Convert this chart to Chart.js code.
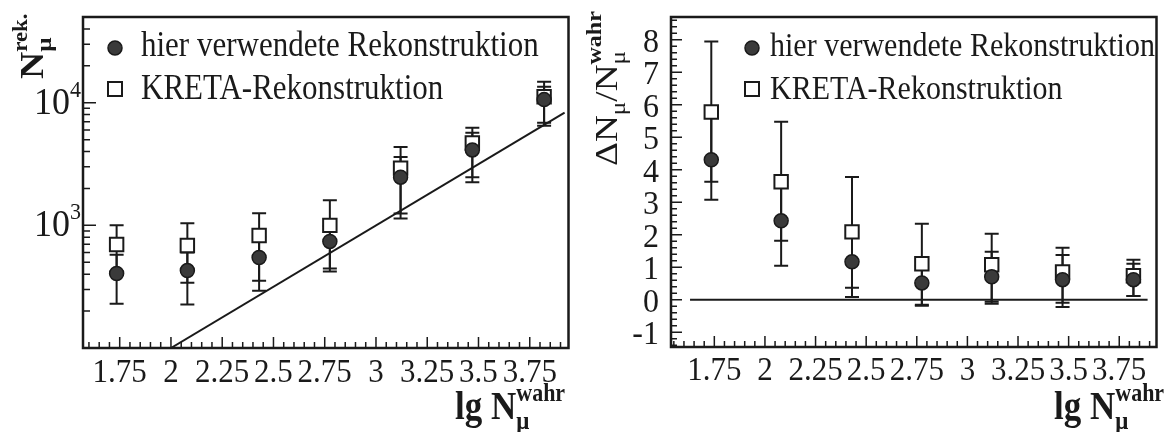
<!DOCTYPE html>
<html>
<head>
<meta charset="utf-8">
<script src="https://cdn.jsdelivr.net/npm/chart.js@4.4.0/dist/chart.umd.min.js"></script>
<style>
  html, body { margin: 0; padding: 0; background: #fff; }
  #wrap { position: relative; width: 1168px; height: 432px; }
  canvas { position: absolute; top: 0; }
</style>
</head>
<body>
<div id="wrap">
  <canvas id="left" width="580" height="432" style="left:0"></canvas>
  <canvas id="right" width="588" height="432" style="left:580px"></canvas>
</div>
<script>
// bin centres in lg N_mu^wahr
const binX = [1.735, 2.08, 2.43, 2.775, 3.12, 3.47, 3.82];

// left panel: reconstructed muon number with error range
const recoN    = [405, 428, 547, 740, 2470, 4120, 10600];
const recoNLo  = [230, 226, 293, 420, 1140, 2250, 6500];
const recoNHi  = [575, 600, 800, 990, 3610, 5680, 13500];
const kretaN   = [698, 686, 828, 1000, 2930, 4700, 11200];
const kretaNLo = [420, 341, 354, 444, 1250, 2470, 6850];
const kretaNHi = [1000, 1040, 1254, 1603, 4360, 6240, 14800];

// right panel: relative deviation dN/N
const recoD    = [4.31, 2.43, 1.17, 0.52, 0.71, 0.62, 0.62];
const recoDLo  = [3.08, 1.05, 0.09, -0.18, -0.12, -0.22, 0.12];
const recoDHi  = [5.7, 3.5, 2.0, 1.05, 1.48, 1.38, 1.11];
const kretaD   = [5.78, 3.63, 2.09, 1.11, 1.08, 0.86, 0.74];
const kretaDLo = [3.63, 1.82, 0.37, -0.15, -0.06, -0.09, 0.12];
const kretaDHi = [7.95, 5.48, 3.78, 2.34, 2.03, 1.6, 1.23];

// reference lines: N_rek = N_wahr and zero deviation
const diagX = [2.0, 3.92];
const diagY = [100, 8300];
const zeroX = [1.63, 3.89];
const zeroY = [0, 0];

const xTickLabels = ['1.75', '2', '2.25', '2.5', '2.75', '3', '3.25', '3.5', '3.75'];
const yTickLabels = ['-1', '0', '1', '2', '3', '4', '5', '6', '7', '8'];
const logTickValues = [1000, 10000];
const logTickExp = ['3', '4'];
const legendLabels = ['hier verwendete Rekonstruktion', 'KRETA-Rekonstruktion'];

const SERIF = '"Liberation Serif", "Times New Roman", serif';
const INK = '#1a1a1a';
const DOT = '#3a3a3a';
const TALL = 1.14;   // glyphs are set a little taller than wide

function pts(xs, ys) { return xs.map((x, i) => ({ x: x, y: ys[i] })); }

// draws a run of text pieces; a piece with stack:true starts where the previous one started.
// sx/sy stretch the glyphs in the text's own frame, align shifts the run
function richText(ctx, x, y, angle, pieces, sx, sy, align) {
  sx = sx || 1; sy = sy || 1;
  let cx = 0, lastStart = 0, maxEnd = 0;
  const placed = pieces.map(p => {
    ctx.font = p.font;
    const start = p.stack ? lastStart : cx;
    const end = start + ctx.measureText(p.text).width;
    maxEnd = p.stack ? Math.max(maxEnd, end) : end;
    lastStart = start;
    cx = maxEnd;
    return { p: p, start: start };
  });
  const shift = align === 'right' ? -cx : align === 'center' ? -cx / 2 : 0;
  ctx.save();
  ctx.translate(x, y);
  ctx.rotate(angle);
  ctx.scale(sx, sy);
  ctx.textBaseline = 'alphabetic';
  ctx.textAlign = 'left';
  ctx.fillStyle = INK;
  placed.forEach(q => {
    ctx.font = q.p.font;
    ctx.fillText(q.p.text, q.start + shift, q.p.dy || 0);
  });
  ctx.restore();
}

const errorBars = {
  id: 'errorBars',
  beforeDatasetsDraw(chart) {
    const ctx = chart.ctx;
    const ys = chart.scales.y;
    chart.data.datasets.forEach((ds, di) => {
      if (!ds.errLo) return;
      const meta = chart.getDatasetMeta(di);
      ctx.save();
      ctx.strokeStyle = INK;
      ctx.lineWidth = 2;
      meta.data.forEach((pt, i) => {
        const x = pt.x;
        const y1 = ys.getPixelForValue(ds.errLo[i]);
        const y2 = ys.getPixelForValue(ds.errHi[i]);
        ctx.beginPath();
        ctx.moveTo(x, y1); ctx.lineTo(x, y2);
        ctx.moveTo(x - 7, y1); ctx.lineTo(x + 7, y1);
        ctx.moveTo(x - 7, y2); ctx.lineTo(x + 7, y2);
        ctx.stroke();
      });
      ctx.restore();
    });
  }
};

// frame, inward tick marks, tick labels, axis titles and the in-plot legend
const decorations = {
  id: 'decorations',
  afterDraw(chart, args, opts) {
    const ctx = chart.ctx;
    const a = chart.chartArea;
    const xs = chart.scales.x, ys = chart.scales.y;
    ctx.save();
    ctx.strokeStyle = INK;
    ctx.lineWidth = 1.5;
    ctx.beginPath();
    // x ticks every 0.05, long every 0.25
    for (let k = Math.ceil(xs.min / 0.05); k * 0.05 <= xs.max; k++) {
      const px = xs.getPixelForValue(k * 0.05);
      const len = k % 5 === 0 ? 11 : 6;
      ctx.moveTo(px, a.bottom); ctx.lineTo(px, a.bottom - len);
    }
    if (ys.type === 'logarithmic') {
      for (let d = 2; d <= 4; d++) {
        for (let m = 1; m <= 9; m++) {
          const v = m * Math.pow(10, d);
          if (v <= ys.min || v >= ys.max) continue;
          const py = ys.getPixelForValue(v);
          const len = m === 1 ? 13 : 7;
          ctx.moveTo(a.left, py); ctx.lineTo(a.left + len, py);
        }
      }
    } else {
      for (let k = Math.ceil(ys.min / 0.2); k * 0.2 <= ys.max; k++) {
        const py = ys.getPixelForValue(k * 0.2);
        const len = k % 5 === 0 ? 11 : 6;
        ctx.moveTo(a.left, py); ctx.lineTo(a.left + len, py);
      }
    }
    ctx.stroke();

    ctx.lineWidth = 2.5;
    ctx.strokeRect(a.left, a.top, a.right - a.left, a.bottom - a.top);

    // tick labels
    xTickLabels.forEach(s => {
      const px = xs.getPixelForValue(parseFloat(s));
      richText(ctx, px, opts.xLabelY, 0, [{ text: s, font: '31px ' + SERIF }], 1, 1.08, 'center');
    });
    if (ys.type === 'logarithmic') {
      logTickValues.forEach((v, i) => {
        const py = ys.getPixelForValue(v);
        richText(ctx, a.left - 2, py + 11, 0, [
          { text: '10', font: '36px ' + SERIF },
          { text: logTickExp[i], font: '22px ' + SERIF, dy: -16 }
        ], 1, 1.07, 'right');
      });
    } else {
      yTickLabels.forEach(s => {
        const py = ys.getPixelForValue(parseFloat(s));
        richText(ctx, a.left - 12, py + 12, 0, [{ text: s, font: '32px ' + SERIF }], 1, 1.07, 'right');
      });
    }

    // legend
    const lg = opts.legend;
    ctx.fillStyle = DOT;
    ctx.strokeStyle = INK;
    ctx.lineWidth = 1.5;
    ctx.beginPath();
    ctx.arc(lg.x, lg.y1, 7, 0, Math.PI * 2);
    ctx.fill(); ctx.stroke();
    ctx.lineWidth = 2;
    ctx.fillStyle = '#fff';
    ctx.fillRect(lg.x - 7, lg.y2 - 7, 14, 14);
    ctx.strokeRect(lg.x - 7, lg.y2 - 7, 14, 14);
    ctx.restore();
    richText(ctx, lg.tx, lg.y1 + 8, 0, [{ text: legendLabels[0], font: lg.size + 'px ' + SERIF }], 1, TALL);
    richText(ctx, lg.tx, lg.y2 + 10, 0, [{ text: legendLabels[1], font: lg.size + 'px ' + SERIF }], 1, TALL);

    opts.titles.forEach(t => richText(ctx, t.x, t.y, t.angle || 0, t.pieces, t.sx, t.sy));
  }
};

function xAxis(min, max, height) {
  return {
    type: 'linear', min: min, max: max,
    grid: { display: false, drawTicks: false },
    border: { display: false },
    ticks: { display: false },
    afterFit: s => { s.height = height; }
  };
}

function markerSets(vals1, lo1, hi1, vals2, lo2, hi2) {
  return [
    { label: legendLabels[0], data: pts(binX, vals1), errLo: lo1, errHi: hi1,
      pointStyle: 'circle', pointRadius: 7, pointBackgroundColor: DOT,
      pointBorderColor: INK, pointBorderWidth: 1.5, showLine: false },
    { label: legendLabels[1], data: pts(binX, vals2), errLo: lo2, errHi: hi2,
      pointStyle: 'rect', pointRadius: 9.5, pointBackgroundColor: '#fff',
      pointBorderColor: INK, pointBorderWidth: 2, showLine: false }
  ];
}

const B = 'bold ';
const xTitle = x => ({
  x: x, y: 419, sy: TALL, pieces: [
    { text: 'lg N', font: B + '35px ' + SERIF },
    { text: 'μ', font: B + '23px ' + SERIF, dy: 9 },
    { text: 'wahr', font: B + '22px ' + SERIF, dy: -16, stack: true }
  ]
});

new Chart(document.getElementById('left'), {
  type: 'scatter',
  data: {
    datasets: markerSets(recoN, recoNLo, recoNHi, kretaN, kretaNLo, kretaNHi).concat([
      { label: 'diag', data: pts(diagX, diagY), showLine: true, pointRadius: 0,
        borderColor: INK, borderWidth: 2 }
    ])
  },
  options: {
    responsive: false, animation: false, devicePixelRatio: 1,
    layout: { padding: { top: 17, right: 8, left: 0, bottom: 0 } },
    plugins: {
      legend: { display: false }, tooltip: { enabled: false },
      decorations: {
        xLabelY: 382,
        legend: { x: 115, y1: 48, y2: 89, tx: 141, size: 31 },
        titles: [
          xTitle(455),
          { x: 43, y: 79, angle: -Math.PI / 2, sx: TALL, pieces: [
            { text: 'N', font: B + '33px ' + SERIF },
            { text: 'μ', font: B + '22px ' + SERIF, dy: 8 },
            { text: 'rek.', font: B + '20px ' + SERIF, dy: -16, stack: true }
          ] }
        ]
      }
    },
    scales: {
      x: xAxis(1.571, 3.939, 84),
      y: {
        type: 'logarithmic', min: 100, max: 50000,
        grid: { display: false, drawTicks: false }, border: { display: false },
        ticks: { display: false },
        afterFit: s => { s.width = 83; }
      }
    }
  },
  plugins: [errorBars, decorations]
});

new Chart(document.getElementById('right'), {
  type: 'scatter',
  data: {
    datasets: markerSets(recoD, recoDLo, recoDHi, kretaD, kretaDLo, kretaDHi).concat([
      { label: 'zero', data: pts(zeroX, zeroY), showLine: true, pointRadius: 0,
        borderColor: INK, borderWidth: 2 }
    ])
  },
  options: {
    responsive: false, animation: false, devicePixelRatio: 1,
    layout: { padding: { top: 17, right: 3, left: 0, bottom: 0 } },
    plugins: {
      legend: { display: false }, tooltip: { enabled: false },
      decorations: {
        xLabelY: 380,
        legend: { x: 172, y1: 48, y2: 89, tx: 190, size: 30 },
        titles: [
          xTitle(474),
          { x: 37, y: 166, angle: -Math.PI / 2, sx: 1.2, pieces: [
            { text: 'ΔN', font: '31px ' + SERIF },
            { text: 'μ', font: '21px ' + SERIF, dy: 8 },
            { text: '/N', font: '31px ' + SERIF },
            { text: 'μ', font: '21px ' + SERIF, dy: 8 },
            { text: 'wahr', font: B + '20px ' + SERIF, dy: -16, stack: true }
          ] }
        ]
      }
    },
    scales: {
      x: xAxis(1.536, 3.934, 85),
      y: {
        type: 'linear', min: -1.45, max: 8.7,
        grid: { display: false, drawTicks: false }, border: { display: false },
        ticks: { display: false },
        afterFit: s => { s.width = 91; }
      }
    }
  },
  plugins: [errorBars, decorations]
});
</script>
</body>
</html>
